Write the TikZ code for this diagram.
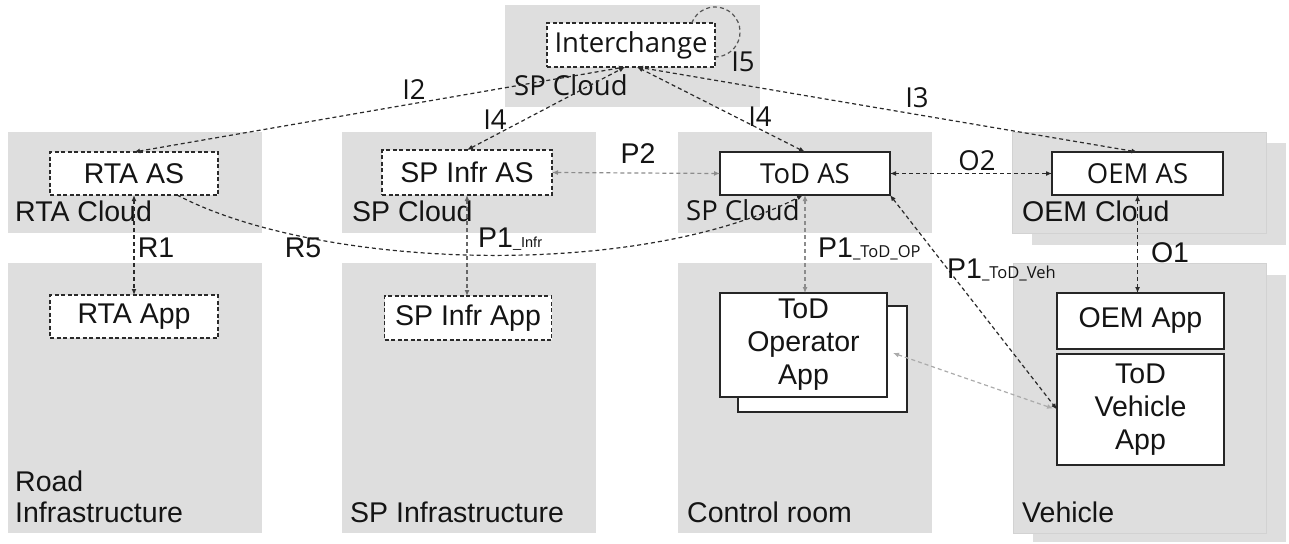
\documentclass[tikz,border=0pt]{standalone}
\usepackage{fontspec}
\setmainfont{Liberation Sans}
\newfontfamily\humfont{Open Sans}
\usetikzlibrary{arrows.meta,calc}
\definecolor{panelgray}{HTML}{DEDEDE}
\definecolor{edgegray}{HTML}{D2D2D2}
\definecolor{linedark}{HTML}{2A2A2A}
\definecolor{linemid}{HTML}{8C8C8C}
\definecolor{linelight}{HTML}{ABABAB}
\newcommand\sizeA{\fontsize{28.5}{33}\selectfont}
\newcommand\sizeH{\fontsize{27.5}{33}\selectfont}
\newcommand\sizeS{\fontsize{14.5}{16}\selectfont}
\newcommand\sizeT{\fontsize{16.5}{18}\selectfont}

\begin{document}
\begin{tikzpicture}[x=1pt,y=-1pt,
  panel/.style={fill=panelgray, inner sep=0pt, outer sep=0pt, anchor=north west},
  shadowpanel/.style={panel, draw=edgegray, line width=0.8pt},
  plabel/.style={font=\sizeA, anchor=base west, inner sep=0pt, text=black!92},
  hlabel/.style={font=\humfont\sizeH, anchor=base west, inner sep=0pt, text=black!92},
  clabel/.style={font=\sizeA, inner sep=0pt, text=black!92},
  hclabel/.style={font=\humfont\sizeH, inner sep=0pt, text=black!92},
  dbox/.style={draw=linedark, dash pattern=on 4pt off 2.5pt, line width=1.3pt, fill=white,
    inner sep=0pt, outer sep=0pt, font=\sizeA, text=black!92},
  sbox/.style={draw=black!85, line width=1.8pt, fill=white, inner sep=0pt, outer sep=0pt,
    font=\sizeA, text=black!92, align=center},
  tip/.tip={Latex[length=6pt,width=5pt]},
  link/.style={draw=linedark, line width=1.2pt, dash pattern=on 4pt off 3pt, arrows={tip-tip}},
  linkmid/.style={link, draw=linemid},
  linklight/.style={link, draw=linelight},
  loopline/.style={draw=linedark!80, line width=1.2pt, dash pattern=on 4pt off 3pt}
]
\useasboundingbox (0,0) rectangle (1289,543);

% ---- grey areas ----
\node[panel, minimum width=255pt, minimum height=102pt] (pTop) at (505,5) {};
\node[panel, minimum width=254pt, minimum height=101pt] (pRtaCloud) at (8,132) {};
\node[panel, minimum width=254pt, minimum height=101pt] (pSpCloud) at (342,132) {};
\node[panel, minimum width=254pt, minimum height=101pt] (pTodCloud) at (678,132) {};
\node[panel, minimum width=254pt, minimum height=102pt] (pOemCloudBack) at (1032,143) {};
\node[shadowpanel, minimum width=254pt, minimum height=101pt] (pOemCloud) at (1012,132) {};

\node[panel, minimum width=254pt, minimum height=270pt] (pRoad) at (8,263) {};
\node[panel, minimum width=254pt, minimum height=270pt] (pSpInfra) at (342,263) {};
\node[panel, minimum width=254pt, minimum height=270pt] (pControl) at (678,263) {};
\node[panel, minimum width=253pt, minimum height=267pt] (pVehicleBack) at (1033,275) {};
\node[shadowpanel, minimum width=253pt, minimum height=270pt] (pVehicle) at (1013,263) {};

% ---- area captions ----
\node[hlabel] (lTop) at (514,95) {SP Cloud};
\node[plabel] (lRtaCloud) at (15,221) {RTA Cloud};
\node[plabel] (lSpCloud) at (352,221) {SP Cloud};
\node[hlabel] (lTodCloud) at (686,220) {SP Cloud};
\node[plabel] (lOemCloud) at (1022,221) {OEM Cloud};
\node[plabel] (lRoadA) at (15,491) {Road};
\node[plabel] (lRoadB) at (15,522) {Infrastructure};
\node[plabel] (lSpInfra) at (350,522) {SP Infrastructure};
\node[plabel] (lControl) at (687,522) {Control room};
\node[plabel] (lVehicle) at (1022,522) {Vehicle};

% ---- application servers and apps ----
\node[dbox, font=\humfont\sizeH, minimum width=168pt, minimum height=44pt] (ic) at (631,45) {Interchange};
\node[dbox, minimum width=168pt, minimum height=43pt] (rta) at (134,173.5) {RTA AS};
\node[dbox, minimum width=170pt, minimum height=45pt] (spas) at (467,172.5) {SP Infr AS};
\node[sbox, font=\humfont\sizeH, minimum width=170pt, minimum height=43pt] (tod) at (805,173.5) {ToD AS};
\node[sbox, font=\humfont\sizeH, minimum width=171pt, minimum height=43pt] (oem) at (1137.5,173.5) {OEM AS};

\node[dbox, minimum width=168pt, minimum height=43pt] (rtaapp) at (134,316.5) {RTA App};
\node[dbox, minimum width=167pt, minimum height=44pt] (spapp) at (468,318) {SP Infr App};
\node[sbox, minimum width=169pt, minimum height=106pt] (opback) at (822.5,359) {};
\node[sbox, minimum width=167pt, minimum height=104pt] (op) at (803.5,345) {ToD\\Operator\\App};
\node[sbox, minimum width=167pt, minimum height=56pt] (oemapp) at (1140.5,321) {OEM App};
\node[sbox, minimum width=167pt, minimum height=111pt] (tva) at (1140.5,409.5) {ToD\\Vehicle\\App};

% ---- interfaces ----
\draw[link] (rta.north) -- ([xshift=-6pt]ic.south);
\draw[link] (spas.north) -- ([xshift=-6pt]ic.south);
\draw[link] (tod.north) -- ([xshift=6pt]ic.south);
\draw[link] (oem.north) -- ([xshift=6pt]ic.south);
\draw[loopline] ($(ic.north east)+(-23.3,0)$) arc[start angle=201, end angle=450, radius=25];

\draw[linkmid] (spas.east) -- (tod.west);
\draw[link] (tod.east) -- (oem.west);

\draw[link] (rta.south) -- (rtaapp.north);
\draw[link, draw=black!60] (spas.south) -- (spas.south |- spapp.north);
\draw[linkmid] (tod.south) -- (tod.south |- op.north);
\draw[link] (oem.south) -- (oem.south |- oemapp.north);

\draw[link, arrows={-tip}] ([xshift=43pt]rta.south) .. controls +(143,75) and +(-163,85) .. ([xshift=-2pt]tod.south);
\draw[link] (tod.south east) -- (tva.west);
\draw[linklight] ($(op.east)+(6,8)$) -- ($(tva.west)+(-4,-1)$);

% ---- interface labels ----
\node[hclabel] (tI2) at (414,90) {I2};
\node[hclabel] (tI4a) at (495,120) {I4};
\node[hclabel] (tI4b) at (760,117) {I4};
\node[hclabel] (tI3) at (917,98) {I3};
\node[hclabel] (tI5) at (743,62) {I5};
\node[clabel] (tP2) at (638,154) {P2};
\node[hclabel] (tO2) at (977,161) {O2};
\node[clabel] (tR1) at (156,248) {R1};
\node[clabel] (tR5) at (303,248) {R5};
\node[clabel] (tO1) at (1170,253) {O1};
\node[plabel] (tP1i) at (478,247) {P1{\sizeS\_Infr}};
\node[plabel] (tP1o) at (818,257) {P1{\humfont\sizeT\_ToD\_OP}};
\node[plabel] (tP1v) at (947,278) {P1{\humfont\sizeT\_ToD\_Veh}};
\end{tikzpicture}
\end{document}
